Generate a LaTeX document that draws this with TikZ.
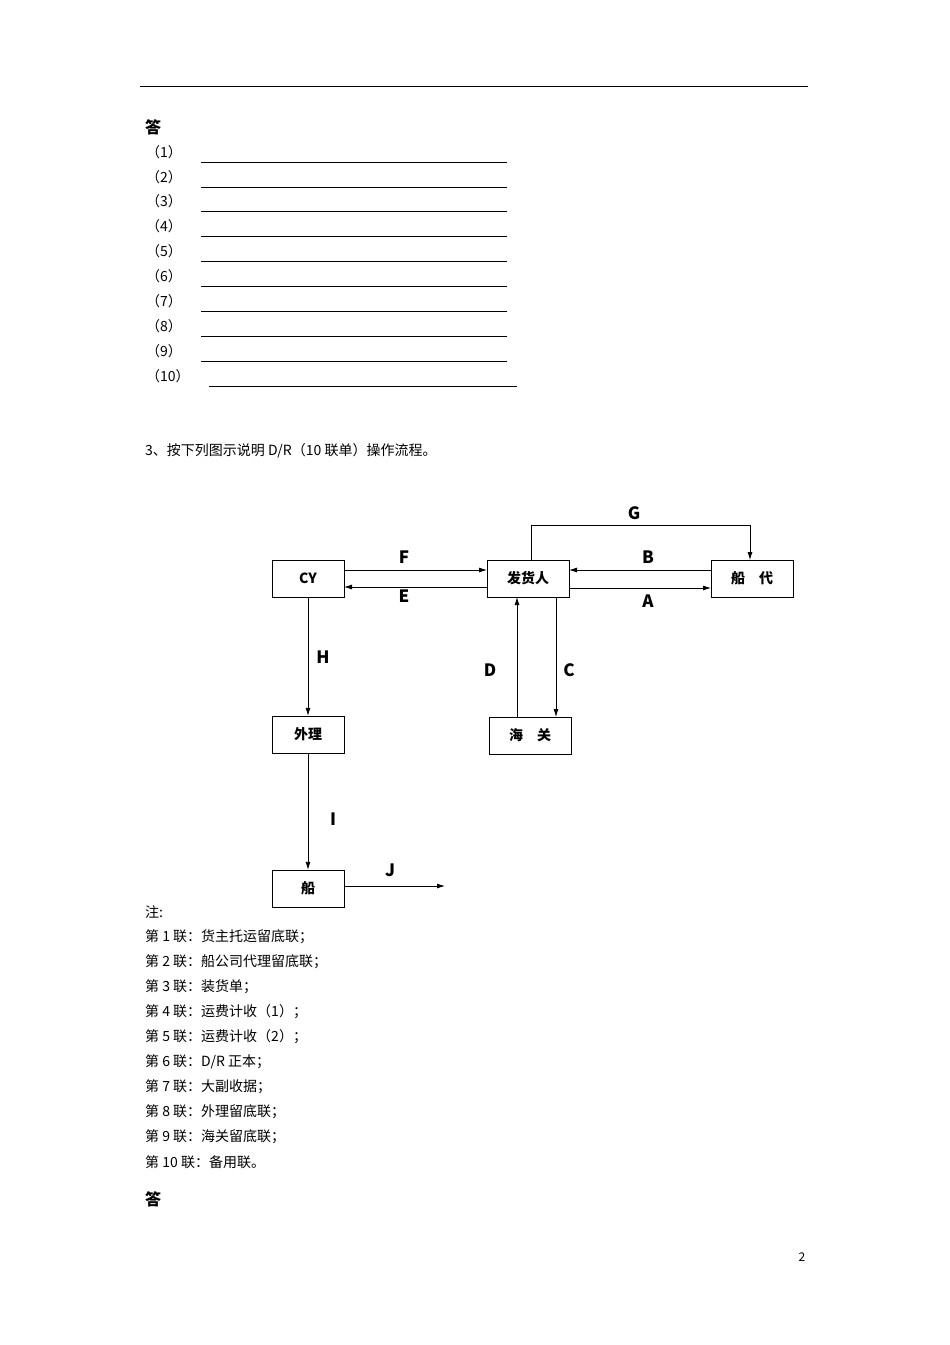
\documentclass[tikz,border=0pt]{standalone}
\usepackage{fontspec}
\setmainfont{Liberation Serif}
\newfontfamily\cjk{Noto Sans CJK SC}
\usetikzlibrary{arrows.meta}
\begin{document}
\begin{tikzpicture}[x=1pt,y=-1pt,font=\cjk\fontsize{14}{16}\selectfont,
  box/.style={draw,minimum width=72pt,minimum height=37pt,inner sep=0pt,font=\cjk\fontsize{14}{16}\selectfont\bfseries},
  arr/.style={-{Latex[length=8pt,width=5pt]},thick},
  lab/.style={font=\cjk\fontsize{17}{19}\selectfont\bfseries},
  txt/.style={anchor=west,inner sep=0pt}]
\useasboundingbox (0,0) rectangle (950,1345);
\draw[thin] (140,86) -- (808,86);
\node[txt,font=\cjk\fontsize{16}{18}\selectfont\bfseries] (ans1) at (145,127) {答};
\foreach \i/\y in {1/152,2/177,3/201,4/226,5/251,6/276,7/301,8/326,9/351}{
  \node[txt] (n\i) at (146,\y) {（\i）};
  \draw (201,\y+10) -- (507,\y+10);}
\node[txt] (n10) at (146,376) {（10）};
\draw (209,386) -- (517,386);
\node[txt] (q3) at (145,451) {3、按下列图示说明 D/R（10 联单）操作流程。};
\node[box] (cy) at (308,578.5) {CY};
\node[box,minimum width=82pt] (fh) at (528,578.5) {发货人};
\node[box,minimum width=82pt] (cd) at (752,578.5) {船\quad 代};
\node[box] (wl) at (308,734.5) {外理};
\node[box,minimum width=82pt] (hg) at (530,735.5) {海\quad 关};
\node[box] (ch) at (308,888.5) {船};
\coordinate (g1) at (531,525); \coordinate (g2) at (750,525);
\draw[arr] (531,560) -- (g1) -- (g2) -- (750,560);
\node[lab] at (634,513) {G};
\draw[arr] (344,570) -- (487,570); \node[lab] at (404,557) {F};
\draw[arr] (487,587) -- (344,587); \node[lab] at (404,596) {E};
\draw[arr] (711,570) -- (569,570); \node[lab] at (648,557) {B};
\draw[arr] (569,588) -- (711,588); \node[lab] at (648,601) {A};
\draw[arr] (517,717) -- (517,597); \node[lab] at (490,670) {D};
\draw[arr] (556,597) -- (556,717); \node[lab] at (569,670) {C};
\draw[arr] (cy) -- (wl); \node[lab] at (323,657) {H};
\draw[arr] (wl) -- (ch); \node[lab] at (333,819) {I};
\coordinate (jend) at (445,886);
\draw[arr] (344,886) -- (jend); \node[lab] at (390,870) {J};
\node[txt] (note) at (145,912) {注:};
\node[txt] at (145,937) {第 1 联：货主托运留底联；};
\node[txt] at (145,962) {第 2 联：船公司代理留底联；};
\node[txt] at (145,987) {第 3 联：装货单；};
\node[txt] at (145,1012) {第 4 联：运费计收（1）；};
\node[txt] at (145,1037) {第 5 联：运费计收（2）；};
\node[txt] at (145,1062) {第 6 联：D/R 正本；};
\node[txt] at (145,1087) {第 7 联：大副收据；};
\node[txt] at (145,1112) {第 8 联：外理留底联；};
\node[txt] at (145,1137) {第 9 联：海关留底联；};
\node[txt] at (145,1162) {第 10 联：备用联。};
\node[txt,font=\cjk\fontsize{16}{18}\selectfont\bfseries] (ans2) at (145,1199) {答};
\node (pg) at (802,1257) {\fontsize{12}{14}\selectfont 2};
\end{tikzpicture}
\end{document}
